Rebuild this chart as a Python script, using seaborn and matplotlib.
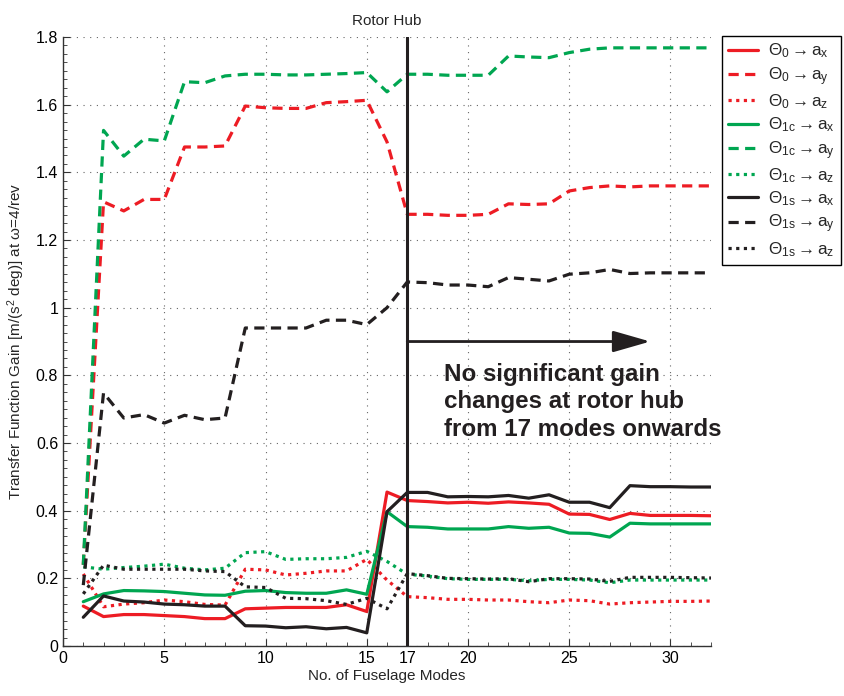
import numpy as np
import pandas as pd
import matplotlib
matplotlib.use("Agg")
import matplotlib.pyplot as plt
import seaborn as sns
from matplotlib.ticker import MultipleLocator, FixedLocator

# ---------------- data ----------------
modes = list(range(1, 33))

t0_ax = [0.118, 0.087, 0.093, 0.093, 0.090, 0.087, 0.081, 0.081, 0.110, 0.112, 0.114, 0.114, 0.114, 0.122, 0.102, 0.455,
         0.430, 0.427, 0.423, 0.425, 0.422, 0.426, 0.423, 0.419, 0.390, 0.389, 0.374, 0.392, 0.386, 0.386, 0.386, 0.385]
t0_ay = [0.240, 1.313, 1.286, 1.320, 1.320, 1.475, 1.475, 1.478, 1.596, 1.591, 1.589, 1.589, 1.606, 1.609, 1.613, 1.490,
         1.276, 1.276, 1.273, 1.273, 1.276, 1.307, 1.305, 1.307, 1.345, 1.355, 1.360, 1.357, 1.360, 1.360, 1.360, 1.360]
t0_az = [0.213, 0.116, 0.124, 0.128, 0.136, 0.131, 0.123, 0.121, 0.227, 0.225, 0.210, 0.215, 0.222, 0.222, 0.256, 0.195,
         0.146, 0.143, 0.138, 0.138, 0.136, 0.136, 0.131, 0.128, 0.136, 0.134, 0.124, 0.128, 0.130, 0.132, 0.132, 0.133]
t1c_ax = [0.131, 0.154, 0.164, 0.163, 0.161, 0.156, 0.151, 0.150, 0.162, 0.164, 0.158, 0.156, 0.156, 0.166, 0.153, 0.397,
          0.353, 0.351, 0.346, 0.346, 0.346, 0.353, 0.348, 0.351, 0.334, 0.333, 0.322, 0.363, 0.361, 0.361, 0.361, 0.361]
t1c_ay = [0.240, 1.524, 1.448, 1.498, 1.493, 1.668, 1.665, 1.685, 1.690, 1.690, 1.688, 1.688, 1.690, 1.692, 1.695, 1.638,
          1.690, 1.690, 1.687, 1.687, 1.687, 1.744, 1.741, 1.739, 1.754, 1.764, 1.768, 1.768, 1.768, 1.768, 1.768, 1.768]
t1c_az = [0.234, 0.227, 0.232, 0.236, 0.242, 0.230, 0.225, 0.230, 0.276, 0.279, 0.256, 0.258, 0.258, 0.262, 0.280, 0.250,
          0.212, 0.207, 0.199, 0.197, 0.197, 0.197, 0.193, 0.197, 0.197, 0.195, 0.187, 0.195, 0.195, 0.195, 0.195, 0.195]
t1s_ax = [0.085, 0.148, 0.133, 0.130, 0.124, 0.122, 0.118, 0.118, 0.060, 0.059, 0.054, 0.057, 0.051, 0.055, 0.039, 0.397,
          0.454, 0.454, 0.441, 0.442, 0.441, 0.445, 0.437, 0.447, 0.425, 0.425, 0.409, 0.474, 0.471, 0.471, 0.470, 0.470]
t1s_ay = [0.180, 0.748, 0.674, 0.684, 0.659, 0.682, 0.669, 0.674, 0.940, 0.940, 0.940, 0.940, 0.963, 0.963, 0.950, 1.000,
          1.076, 1.074, 1.067, 1.067, 1.062, 1.089, 1.084, 1.079, 1.099, 1.103, 1.113, 1.101, 1.103, 1.103, 1.103, 1.103]
t1s_az = [0.154, 0.239, 0.227, 0.227, 0.227, 0.227, 0.222, 0.220, 0.175, 0.173, 0.141, 0.140, 0.134, 0.123, 0.141, 0.110,
          0.214, 0.208, 0.200, 0.199, 0.198, 0.199, 0.190, 0.199, 0.199, 0.198, 0.191, 0.203, 0.203, 0.203, 0.202, 0.201]

series_labels = [r'$\Theta_{0} \rightarrow a_{x}$', r'$\Theta_{0} \rightarrow a_{y}$', r'$\Theta_{0} \rightarrow a_{z}$',
                 r'$\Theta_{1c} \rightarrow a_{x}$', r'$\Theta_{1c} \rightarrow a_{y}$', r'$\Theta_{1c} \rightarrow a_{z}$',
                 r'$\Theta_{1s} \rightarrow a_{x}$', r'$\Theta_{1s} \rightarrow a_{y}$', r'$\Theta_{1s} \rightarrow a_{z}$']
series_values = [t0_ax, t0_ay, t0_az, t1c_ax, t1c_ay, t1c_az, t1s_ax, t1s_ay, t1s_az]

x_major_ticks = [0, 5, 10, 15, 17, 20, 25, 30]
y_major_ticks = [0, 0.2, 0.4, 0.6, 0.8, 1.0, 1.2, 1.4, 1.6, 1.8]
y_tick_labels = ['0', '0.2', '0.4', '0.6', '0.8', '1', '1.2', '1.4', '1.6', '1.8']

# ---------------- style ----------------
sns.set_style("white")
plt.rcParams['font.family'] = ['Liberation Sans', 'DejaVu Sans']
plt.rcParams['mathtext.fontset'] = 'custom'
plt.rcParams['mathtext.rm'] = 'Liberation Sans'
plt.rcParams['mathtext.it'] = 'Liberation Sans'
plt.rcParams['mathtext.bf'] = 'Liberation Sans:bold'

RED = '#ED1C24'
GREEN = '#00A651'
BLACK = '#231F20'
colors = [RED, RED, RED, GREEN, GREEN, GREEN, BLACK, BLACK, BLACK]
styles = ['solid', (0, (3.2, 2.0)), (0, (1.0, 1.4))] * 3

fig = plt.figure(figsize=(8.45, 6.96), dpi=100)
ax = fig.add_axes([0.0746, 0.0718, 0.7668, 0.875])

rows = []
for lab, vals in zip(series_labels, series_values):
    for m, v in zip(modes, vals):
        rows.append({'modes': m, 'gain': v, 'series': lab})
df = pd.DataFrame(rows)

for lab, col, ls in zip(series_labels, colors, styles):
    sub = df[df['series'] == lab]
    sns.lineplot(data=sub, x='modes', y='gain', ax=ax, color=col, linewidth=2.3,
                 linestyle=ls, label=lab, zorder=3)

ax.axvline(17, color=BLACK, lw=2.2, zorder=4)
ax.annotate('', xy=(29.0, 0.9), xytext=(17, 0.9),
            arrowprops=dict(arrowstyle='-|>,head_length=1.15,head_width=0.33', lw=2.0,
                            color=BLACK, mutation_scale=20, shrinkA=0, shrinkB=0), zorder=4)
ax.text(18.8, 0.722, 'No significant gain\nchanges at rotor hub\nfrom 17 modes onwards',
        fontsize=17.4, fontweight='bold', ha='left', va='center', linespacing=1.25, color=BLACK)

ax.set_xlim(0, 32)
ax.set_ylim(0, 1.8)
ax.xaxis.set_major_locator(FixedLocator(x_major_ticks))
ax.xaxis.set_minor_locator(MultipleLocator(1))
ax.set_yticks(y_major_ticks)
ax.set_yticklabels(y_tick_labels)
ax.yaxis.set_minor_locator(MultipleLocator(0.025))
ax.tick_params(which='both', direction='in', colors='#333333', labelcolor='black', labelsize=11.5)
ax.tick_params(which='major', length=5, width=0.8)
ax.tick_params(which='minor', length=3, width=0.6)
ax.tick_params(axis='x', which='both', bottom=True)
ax.tick_params(axis='y', which='both', left=True)
ax.grid(True, which='major', linestyle=(0, (1, 5)), color='#666666', linewidth=0.8)
for s in ['top', 'right']:
    ax.spines[s].set_visible(False)
for s in ['left', 'bottom']:
    ax.spines[s].set_color('#333333')
    ax.spines[s].set_linewidth(1.0)

ax.set_title('Rotor Hub', fontsize=11, pad=9)
ax.set_xlabel('No. of Fuselage Modes', fontsize=11, labelpad=2)
ax.set_ylabel(r'Transfer Function Gain [m/(s$^2$ deg)] at $\omega$=4/rev', fontsize=11, labelpad=6)

leg = ax.legend(loc='upper left', bbox_to_anchor=(1.017, 1.002), fontsize=12.3, frameon=True,
                fancybox=False, framealpha=1, edgecolor='black', handlelength=1.75,
                labelspacing=0.27, borderpad=0.35, handletextpad=0.6, borderaxespad=0)
leg.get_frame().set_linewidth(1.0)

fig.savefig('out.png', dpi=100)
